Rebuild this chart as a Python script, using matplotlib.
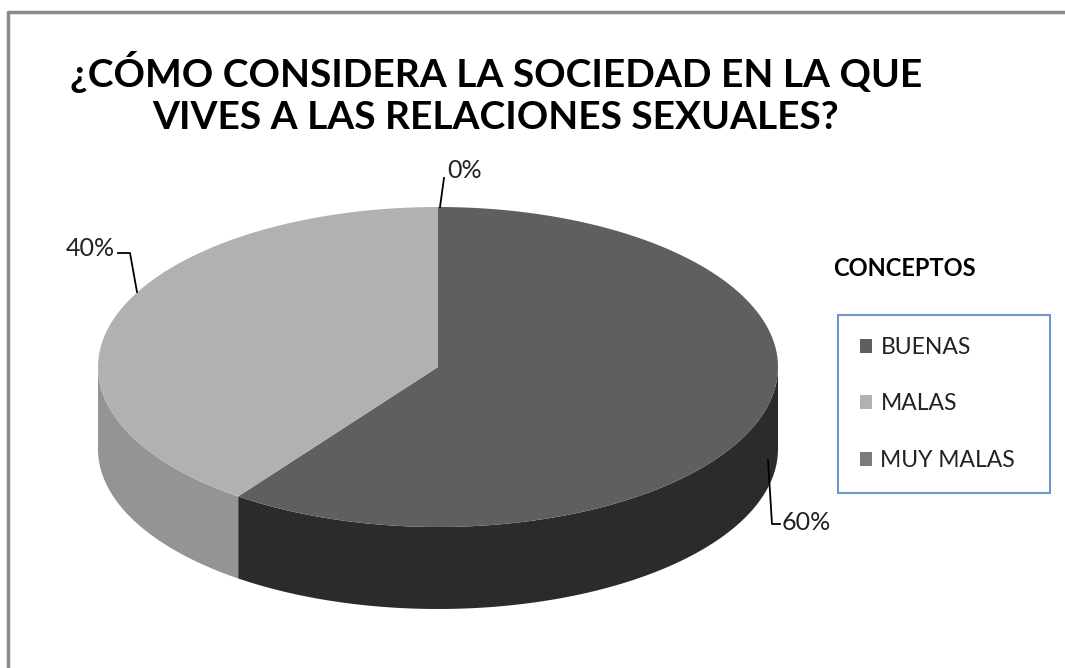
import numpy as np
import matplotlib.pyplot as plt
from matplotlib.patches import Patch

# datos
categorias = ["BUENAS", "MALAS", "MUY MALAS"]
valores = [60, 40, 0]
etiquetas = ["60%", "40%", "0%"]
titulo = "¿CÓMO CONSIDERA LA SOCIEDAD EN LA QUE\nVIVES A LAS RELACIONES SEXUALES?"

color_sup = ["#5f5f5f", "#b1b1b1", "#7b7b7b"]
color_lado = ["#2b2b2b", "#949494", "#555555"]

plt.rcParams["font.family"] = ["Lato", "DejaVu Sans"]

fig = plt.figure(figsize=(10.65, 6.68), dpi=100)
ax = fig.add_axes([0, 0, 1, 1])
ax.set_xlim(0, 1065)
ax.set_ylim(668, 0)
ax.axis("off")

# marco del grafico
ax.plot([8, 8, 1065], [668, 12, 12], color="#8a8a8a", lw=2.5)

# geometria del pastel 3D (en pixeles)
cx, cy, rx, ry, prof = 438, 367, 340, 160, 82


def punto(theta, dy=0):
    t = np.radians(theta)
    return cx + rx * np.cos(t), cy - ry * np.sin(t) + dy


total = sum(valores)
inicio = 90.0
rangos = []
for v in valores:
    fin = inicio - 360.0 * v / total
    rangos.append((fin, inicio))
    inicio = fin

# caras laterales (parte frontal visible)
for (a0, a1), c in zip(rangos, color_lado):
    for desp in (0, -360):
        lo, hi = max(a0 - desp, -180), min(a1 - desp, 0)
        if hi - lo <= 0:
            continue
        th = np.linspace(lo, hi, 100)
        xs, ys = punto(th)
        xb, yb = punto(th[::-1], prof)
        ax.fill(np.r_[xs, xb], np.r_[ys, yb], color=c, lw=0)

# cara superior
for (a0, a1), c in zip(rangos, color_sup):
    if a1 - a0 <= 0:
        continue
    th = np.linspace(a0, a1, 200)
    xs, ys = punto(th)
    ax.fill(np.r_[cx, xs], np.r_[cy, ys], color=c, lw=0)

# etiquetas de datos con lineas guia
ax.plot([440, 444], [207, 178], color="black", lw=1.3)
ax.text(447, 170, etiquetas[2], fontsize=18, va="center", ha="left", color="#222222")

ax.plot([137, 130, 118], [292, 253, 253], color="black", lw=1.3)
ax.text(115, 249, etiquetas[1], fontsize=18, va="center", ha="right", color="#222222")

ax.plot([768, 772, 780], [460, 524, 524], color="black", lw=1.3)
ax.text(782, 522, etiquetas[0], fontsize=18, va="center", ha="left", color="#222222")

# titulo
ax.text(496, 93, titulo, fontsize=28, fontweight="bold", ha="center", va="center",
        linespacing=1.25, color="black")

# leyenda
ax.text(833, 268, "CONCEPTOS", fontsize=17, fontweight="bold", va="center", ha="left")
handles = [Patch(facecolor=c, edgecolor="none") for c in color_sup]
leg = ax.legend(handles, categorias, loc="upper left",
                bbox_to_anchor=(838 / 1065, 1 - 492 / 668, 212 / 1065, 177 / 668),
                bbox_transform=fig.transFigure, mode="expand", borderaxespad=0,
                fontsize=16.5, labelspacing=1.55, borderpad=0.95,
                handlelength=0.55, handleheight=0.55, handletextpad=0.35,
                fancybox=False, frameon=True)
leg.get_frame().set_edgecolor("#4a7ebb")
leg.get_frame().set_linewidth(1.5)
for t in leg.get_texts():
    t.set_color("#222222")

fig.savefig("out.png", dpi=100, facecolor="white")
